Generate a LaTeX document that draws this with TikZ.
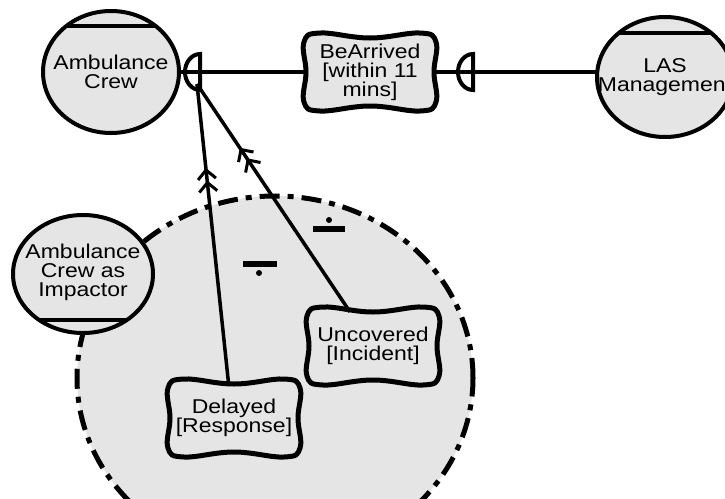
\documentclass[tikz,border=0pt]{standalone}
\usepackage{fontspec}
\setmainfont{Liberation Sans}[FakeStretch=1.15]
\usetikzlibrary{shapes.geometric,arrows.meta,decorations.markings}

\definecolor{shade}{gray}{0.9}
\pgfdeclarelayer{background}
\pgfsetlayers{background,main}

\begin{document}
\begin{tikzpicture}[x=1pt,y=-1pt,
  agent/.style={ellipse,draw,fill=shade,line width=4pt,inner sep=0pt,outer sep=0pt,
    minimum width=136pt,minimum height=122pt},
  agenttext/.style={align=center,inner sep=0pt,font=\fontsize{20}{19}\selectfont},
  goal/.style={agenttext,minimum width=130pt,minimum height=68pt},
  goalline/.style={draw,fill=shade,line width=5pt},
  chord/.style={line width=4pt},
  link/.style={line width=3.5pt},
  refine/.style={link,postaction={decorate},decoration={markings,
    mark=at position 0.72 with {\arrow{Straight Barb[length=9pt,width=18pt,line width=3pt]
      Straight Barb[length=9pt,width=18pt,line width=3pt]}}}},
  obstacle/.style={draw,fill=shade,line width=5pt,dash pattern=on 20pt off 8pt on 6pt off 8pt},
  resp/.pic={\draw[line width=4pt] (0,18) -- (0,-18)
    arc[start angle=90,end angle=270,x radius=15pt,y radius=18pt] -- cycle;}]

\useasboundingbox (0,0) rectangle (725,498);

\def\obstaclearea{(275,378) ellipse [x radius=198pt, y radius=182pt]}
\def\goalshape{plot[smooth cycle,tension=0.7] coordinates {(0,-34) (50,-39) (66,-30)
  (64,0) (66,30) (50,39) (0,34) (-50,39) (-66,30) (-64,0) (-66,-30) (-50,-39)}}

% agents
\node[agent] (crew) at (111,72) {};
\node[agent,minimum height=120pt] (las) at (665,77) {};
\node[agent,minimum width=140pt,minimum height=118pt] (imp) at (83,274) {};
\draw[chord] (crew.46) -- (crew.134);
\draw[chord] (las.44) -- (las.136);
\draw[chord] (imp.-46) -- (imp.-134);
\node[agenttext] (crew-text) at (crew) {Ambulance\\Crew};
\node[agenttext] (las-text) at (las) {LAS\\Management};
\node[agenttext] (imp-text) at (83,272) {Ambulance\\Crew as\\Impactor};

% goals
\node[goal] (arrived) at (370,72) {BeArrived\\{}[within 11\\mins]};
\node[goal] (delayed) at (234,418) {Delayed\\{}[Response]};
\node[goal] (uncovered) at (373,346) {Uncovered\\{}[Incident]};

\begin{pgfonlayer}{background}
\path[obstacle] \obstaclearea;
\foreach \g in {arrived,delayed,uncovered}
  \draw[goalline,shift={(\g.center)}] \goalshape;
\end{pgfonlayer}

% responsibility links
\coordinate (resp1) at (200,72);
\coordinate (resp1-foot) at (197,84);
\coordinate (resp2) at (473,72);
\draw[link] (crew.east) -- (resp1) -- (arrived.west);
\draw[link] (arrived.east) -- (resp2) -- (las.west |- resp2);
\pic at (resp1) {resp};
\pic at (resp2) {resp};

\draw[refine] (delayed.99) -- (resp1-foot);
\draw[refine] (uncovered.124) -- (resp1-foot);

% obstruction marks
\draw[line width=6pt] (243,264) -- (277,264);
\fill (259,273) circle[radius=3pt];
\draw[line width=6pt] (313,229) -- (345,229);
\fill (329,220) circle[radius=3pt];
\end{tikzpicture}
\end{document}
